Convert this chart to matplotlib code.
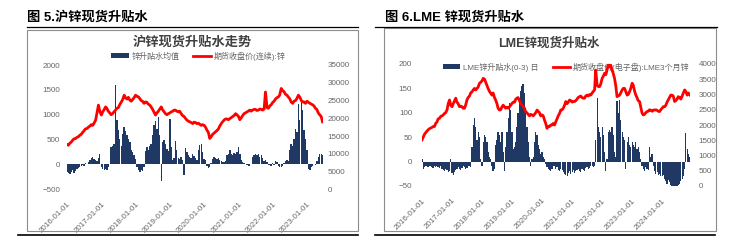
import matplotlib
matplotlib.use('Agg')
import matplotlib.pyplot as plt
from matplotlib.patches import Rectangle
from matplotlib.lines import Line2D
import pandas as pd

plt.rcParams['font.family'] = ['Liberation Sans', 'Noto Sans CJK SC', 'DejaVu Sans']

# ---------------- data: SHFE zinc (semi-monthly, 2016-01 .. 2023-06) ----------------
sh_basis = [
    -150, -180, -200, -160, -120, -180, -140, -100, -80, -60, -30, -20,
    -40, 20, 10, 40, 80, 120, 140, 110, 90, 60, 120, 220,
    -60, -100, -120, -90, -110, -60, 10, 350, 380, 420, 1600, 900,
    700, 520, 380, 620, 750, 680, 600, 520, 450, 300, 250, 180,
    100, -60, -120, -150, -110, -130, -60, 280, 360, 300, 380, 420,
    600, 800, 880, 720, 950, 600, -340, 450, 500, 420, 320, 280,
    920, 350, 90, 120, 480, 300, 120, 100, 140, 80, -210, 330,
    250, 180, 150, 120, 200, 160, 120, 90, 300, 390, 420, 250,
    100, 80, -40, -80, -60, 20, 100, 140, 120, 100, 130, 90,
    60, 50, 40, 60, 180, 220, 300, 200, 180, 240, 220, 260,
    350, 200, 80, 50, 20, 0, -20, -40, -40, 10, 150, 190,
    200, 180, 220, 150, 190, 120, 60, 80, 50, -20, -10, -30,
    20, -20, 60, 50, -40, -60, -60, -40, 30, 60, 80, 60,
    300, 420, 380, 520, 720, 650, 1220, 900, 1250, 1100, 700, 520,
    300, -100, -120, -60, -30, 10, -20, 60, 150, 220, 200, 180,
]
sh_price = [
    12600, 12400, 13000, 13300, 13800, 14200, 14300, 14600, 14800, 15200, 15500, 16000,
    16500, 17000, 17100, 17500, 17800, 18200, 18000, 18600, 19500, 21500, 23700, 22000,
    20900, 21800, 22500, 23200, 22800, 22000, 21500, 21000, 21300, 21800, 22300, 22800,
    23000, 23800, 24600, 25200, 26500, 25800, 25400, 25900, 25100, 24800, 25300, 25800,
    26500, 26200, 26000, 25500, 25000, 24800, 24200, 24600, 24500, 24000, 23700, 23200,
    22500, 21800, 20900, 21500, 22000, 22600, 23200, 22400, 21800, 21300, 21000, 21300,
    21500, 21800, 22000, 22300, 22300, 22000, 21800, 22000, 21300, 20800, 20500, 20000,
    19500, 19200, 19000, 18800, 18500, 18900, 18800, 18500, 18600, 18300, 18000, 18200,
    18000, 17500, 16600, 16000, 14300, 14800, 15500, 15800, 16200, 16500, 17000, 17800,
    18500, 19000, 19500, 19800, 19800, 19600, 19900, 20200, 20500, 20800, 21300, 21000,
    20500, 19600, 20200, 20800, 21300, 21500, 21800, 22000, 22300, 22000, 22300, 22500,
    22500, 22200, 22300, 22600, 22500, 22300, 22600, 27400, 23000, 22800, 23500, 23800,
    24500, 24800, 25500, 25800, 26000, 26500, 28400, 27800, 27500, 26800, 26500, 26000,
    25500, 24600, 24200, 24800, 25000, 25600, 26500, 26000, 25000, 24600, 24600, 24200,
    24800, 24500, 24200, 24000, 23800, 23500, 22800, 22500, 21500, 21000, 20500, 19000,
]
sh_year_ticks = ['2016-01-01', '2017-01-01', '2018-01-01', '2019-01-01',
                 '2020-01-01', '2021-01-01', '2022-01-01', '2023-01-01']

# ---------------- data: LME zinc (semi-monthly, 2016-01 .. 2024-12) ----------------
lme_basis = [
    5, -15, -12, -8, -10, -12, -8, -10, -12, -14, -10, -12,
    -8, -12, -14, -10, -16, -18, -20, -16, -18, -22, -20, 5,
    -24, -28, -22, -18, -15, -12, -16, -18, -14, -10, -12, -16,
    -14, -10, -8, -12, 30, 75, 90, 70, 45, 60, 50, 5,
    -10, 40, 55, 50, 40, 20, 10, 5, -10, -20, -15, 35,
    45, 60, 55, 40, 60, 20, -20, 30, 60, 90, 120, 105,
    60, 25, 30, 40, 70, 100, 130, 145, 155, 160, 140, 110,
    70, 40, 10, -10, 5, 10, 40, 60, 55, 35, 25, 15,
    20, 10, 5, -5, -12, -15, -18, -20, -15, -10, -8, -15,
    -12, -18, -20, -15, -18, -22, -25, -28, -30, -24, -20, -26,
    -22, -18, -24, -20, -18, -16, -20, -22, -15, -18, -20, -14,
    -12, -16, -14, -10, -8, -12, -10, 45, 130, 70, 60, 50,
    70, 55, 20, -20, 5, 60, 65, 60, 70, 55, 20, 10,
    125, 100, 126, 85, 60, 50, 45, -15, 40, 50, 35, 30,
    40, 35, 30, 40, 25, 30, 20, 5, -10, -15, -20, -12,
    -15, -18, 30, 10, 15, -10, -20, -25, -22, -28, -25, -30,
    -30, -28, -35, -40, -45, -38, -42, -48, -50, -50, -50, -50,
    -50, -48, -45, -40, -35, -30, -15, 58, 25, 15, 10, 5,
]
lme_price = [
    1510, 1600, 1700, 1750, 1800, 1840, 1880, 1900, 1920, 1950, 1950, 2050,
    2100, 2200, 2220, 2280, 2300, 2330, 2380, 2400, 2500, 2700, 2820, 2650,
    2600, 2700, 2800, 2880, 2750, 2700, 2600, 2620, 2600, 2550, 2550, 2650,
    2820, 2900, 2950, 3050, 3090, 3150, 3200, 3150, 3200, 3250, 3370, 3400,
    3450, 3530, 3500, 3400, 3300, 3200, 3100, 3050, 2980, 3050, 2900, 2820,
    2700, 2550, 2490, 2500, 2600, 2650, 2600, 2550, 2580, 2550, 2600, 2650,
    2710, 2750, 2750, 2850, 2880, 2900, 2800, 2710, 2650, 2600, 2550, 2440,
    2400, 2350, 2300, 2350, 2330, 2300, 2350, 2400, 2490, 2450, 2400, 2300,
    2330, 2300, 2150, 2050, 1890, 1950, 1950, 2000, 2000, 2050, 2000, 2100,
    2200, 2300, 2380, 2490, 2500, 2550, 2650, 2770, 2700, 2750, 2820, 2800,
    2750, 2770, 2770, 2800, 2850, 2900, 2930, 2950, 2900, 2880, 2880, 2950,
    2980, 2950, 3000, 2980, 3050, 3100, 3150, 3800, 3300, 3260, 3260, 3350,
    3530, 3600, 3700, 3650, 3800, 3970, 3900, 3970, 3800, 3700, 3530, 3300,
    2930, 2950, 2980, 3050, 3150, 3200, 3200, 3100, 2980, 3000, 3100, 3200,
    3370, 3300, 3100, 2980, 2900, 2800, 2770, 2600, 2400, 2330, 2350, 2400,
    2440, 2450, 2500, 2480, 2450, 2490, 2490, 2500, 2480, 2450, 2440, 2500,
    2550, 2600, 2600, 2650, 2750, 2820, 2900, 2980, 2980, 2950, 2770, 2800,
    2850, 2930, 2900, 2850, 2950, 3050, 3150, 3100, 2980, 3050, 3000, 2950,
]
lme_year_ticks = ['2016-01-01', '2017-01-01', '2018-01-01', '2019-01-01', '2020-01-01',
                  '2021-01-01', '2022-01-01', '2023-01-01', '2024-01-01']

NAVY = '#1F3864'
RED = '#FF0000'
GRAY = '#666666'
W, H = 730, 242

sh_dates = pd.date_range('2016-01-01', periods=len(sh_basis), freq='SMS')
lme_dates = pd.date_range('2016-01-01', periods=len(lme_basis), freq='SMS')

fig = plt.figure(figsize=(W / 100, H / 100), dpi=100)


def fx(x):
    return x / W


def fy(y):
    return 1 - y / H


def hline(x0, x1, y, lw):
    fig.add_artist(Line2D([fx(x0), fx(x1)], [fy(y), fy(y)], transform=fig.transFigure,
                          color='black', lw=lw))


def frame(x0, y0, x1, y1):
    fig.add_artist(Rectangle((fx(x0), fy(y1)), (x1 - x0) / W, (y1 - y0) / H,
                             transform=fig.transFigure, fill=False, ec='#8c8c8c', lw=0.8))


def style_axes(ax, axr, ticks, lpad, rpad):
    for a in (ax, axr):
        for s in a.spines.values():
            s.set_visible(False)
    ax.tick_params(axis='y', length=0, pad=lpad, labelsize=5.8, labelcolor=GRAY)
    axr.tick_params(axis='y', length=0, pad=rpad, labelsize=5.8, labelcolor=GRAY)
    tpos = [pd.Timestamp(t) for t in ticks]
    ax.set_xticks(tpos)
    ax.set_xticklabels(ticks, rotation=45, ha='right', va='top', rotation_mode='anchor',
                       fontsize=5.8, color=GRAY)
    ax.tick_params(axis='x', length=0, pad=8)


# ---------------- left panel ----------------
fig.text(fx(27), fy(17), '图 5.沪锌现货升贴水', ha='left', va='center', fontsize=9.5,
         weight='bold', color='black')
hline(27, 358, 27, 0.9)
hline(18, 358, 235, 1.2)
frame(27, 30, 358, 231)

ax1 = fig.add_axes([fx(67), fy(189.3), (323 - 67) / W, (189.3 - 65) / H])
b1 = ax1.bar(sh_dates, sh_basis, width=15, color=NAVY, lw=0)
ax1.set_ylim(-500, 2000)
ax1.set_yticks(range(-500, 2001, 500))
ax1.set_xlim(pd.Timestamp('2016-01-01'), pd.Timestamp('2023-06-20'))
ax1r = ax1.twinx()
l1, = ax1r.plot(sh_dates, sh_price, color=RED, lw=2.0)
ax1r.set_ylim(0, 35000)
ax1r.set_yticks(range(0, 35001, 5000))
style_axes(ax1, ax1r, sh_year_ticks, 5, 3.5)

fig.text(fx(192), fy(42), '沪锌现货升贴水走势', ha='center', va='center', fontsize=9.5,
         weight='bold', color='#404040')
ax1.legend([b1, l1], ['锌升贴水均值', '期货收盘价(连续):锌'], ncol=2, loc='center',
           bbox_to_anchor=(fx(198), fy(56)), bbox_transform=fig.transFigure,
           frameon=False, fontsize=5.8, labelcolor=GRAY, handlelength=2.3,
           handleheight=0.5, columnspacing=1.6, handletextpad=0.3, borderpad=0)

# ---------------- right panel ----------------
fig.text(fx(385), fy(17), '图 6.LME 锌现货升贴水', ha='left', va='center', fontsize=9.5,
         weight='bold', color='black')
hline(375, 717, 27, 0.9)
hline(375, 715, 235, 1.2)
frame(384, 28, 716, 231)

ax2 = fig.add_axes([fx(422), fy(186), (690 - 422) / W, (186 - 64) / H])
b2 = ax2.bar(lme_dates, lme_basis, width=15, color=NAVY, lw=0)
ax2.set_ylim(-50, 200)
ax2.set_yticks(range(-50, 201, 50))
ax2.set_xlim(pd.Timestamp('2016-01-01'), pd.Timestamp('2024-12-05'))
ax2r = ax2.twinx()
l2, = ax2r.plot(lme_dates, lme_price, color=RED, lw=2.0)
ax2r.set_ylim(0, 4000)
ax2r.set_yticks(range(0, 4001, 500))
style_axes(ax2, ax2r, lme_year_ticks, 7, 6)

fig.text(fx(549), fy(44), 'LME锌现货升贴水', ha='center', va='center', fontsize=9,
         weight='bold', color='#404040')
ax2.legend([b2, l2], ['LME锌升贴水(0-3) 日', '期货收盘价(电子盘):LME3个月锌'], ncol=2,
           loc='center', bbox_to_anchor=(fx(566), fy(67)), bbox_transform=fig.transFigure,
           frameon=False, fontsize=5.8, labelcolor=GRAY, handlelength=2.2,
           handleheight=0.5, columnspacing=1.8, handletextpad=0.3, borderpad=0)

fig.savefig('out.png', dpi=100)
